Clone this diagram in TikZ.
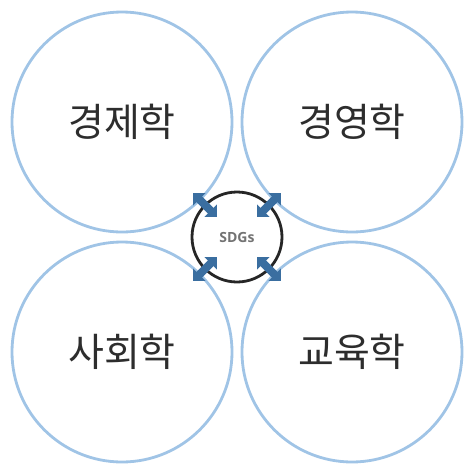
\documentclass[tikz,border=0pt]{standalone}
\usepackage{fontspec}
\newfontfamily\kr{Noto Sans CJK KR}
\newfontfamily\lat{Open Sans}
\usetikzlibrary{arrows.meta}
\definecolor{ringblue}{RGB}{160,196,230}
\definecolor{markblue}{RGB}{58,110,160}
\definecolor{txt}{RGB}{45,45,45}
\tikzset{
  ring/.style={circle, draw=ringblue, line width=2.8pt, minimum size=220pt, inner sep=0pt, font=\kr\fontsize{39}{44}\selectfont, text=txt},
  hub/.style={circle, draw=black!85, fill=white, line width=2.8pt, minimum size=90pt, inner sep=0pt, font=\lat\bfseries\fontsize{14}{16}\selectfont, text=black!55},
  marker/.style={markblue, line width=8pt, {Triangle[width=17pt,length=9pt]}-{Triangle[width=17pt,length=9pt]}}
}
\begin{document}
\begin{tikzpicture}[x=1pt,y=-1pt]
\useasboundingbox (0,0) rectangle (465,467);
\node[ring] (eco) at (122,122) {\raisebox{-5pt}{경제학}};
\node[ring] (bus) at (352,122) {\raisebox{-5pt}{경영학}};
\node[ring] (soc) at (122,352) {\raisebox{-2pt}{사회학}};
\node[ring] (edu) at (352,352) {\raisebox{-2pt}{교육학}};
\node[hub] (sdg) at (237,237) {\raisebox{-3pt}{SDGs}};
\path (sdg.center) ++(-44,-44) coordinate (a1) ++(24,24) coordinate (b1);
\path (sdg.center) ++(44,-44) coordinate (a2) ++(-24,24) coordinate (b2);
\path (sdg.center) ++(-44,44) coordinate (a3) ++(24,-24) coordinate (b3);
\path (sdg.center) ++(44,44) coordinate (a4) ++(-24,-24) coordinate (b4);
\draw[marker] (a1) -- (b1);
\draw[marker] (a2) -- (b2);
\draw[marker] (a3) -- (b3);
\draw[marker] (a4) -- (b4);
\end{tikzpicture}
\end{document}
